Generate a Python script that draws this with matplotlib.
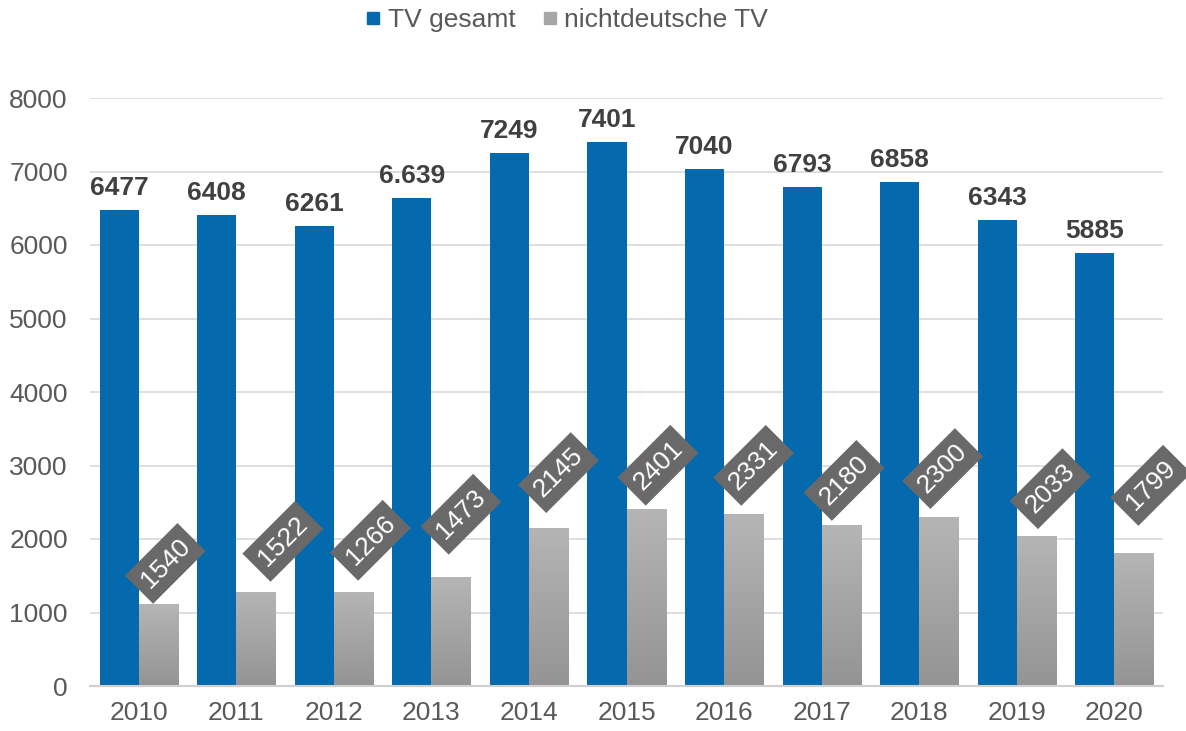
import numpy as np
import matplotlib
matplotlib.use('Agg')
import matplotlib.pyplot as plt
from matplotlib.lines import Line2D

plt.rcParams['font.family'] = ['Liberation Sans', 'DejaVu Sans']

# ---- Daten ----
years = ['2010', '2011', '2012', '2013', '2014', '2015', '2016', '2017', '2018', '2019', '2020']
tv_gesamt = [6477, 6408, 6261, 6639, 7249, 7401, 7040, 6793, 6858, 6343, 5885]
tv_gesamt_labels = ['6477', '6408', '6261', '6.639', '7249', '7401', '7040', '6793', '6858', '6343', '5885']
# Balkenhöhen wie im Bild (2010/2011 passen nicht zu den Beschriftungen)
tv_nichtdeutsch = [1110, 1275, 1275, 1480, 2155, 2405, 2335, 2185, 2305, 2045, 1805]
tv_nichtdeutsch_labels = ['1540', '1522', '1266', '1473', '2145', '2401', '2331', '2180', '2300', '2033', '1799']

# Verschiebung der gedrehten Beschriftungen (Pixel, rechts / oben)
label_shift = [(7, 41), (27, 51), (17, 52), (10, 63), (10, 55), (12, 44),
               (10, 49), (3, 45), (4, 48), (14, 47), (17, 68)]

BLUE = '#0569ae'
TXT = '#595959'
FS = 19

fig = plt.figure(figsize=(11.86, 7.31), dpi=100)
ax = fig.add_axes([90 / 1186, 45 / 731, 1073 / 1186, 588 / 731])

x = np.arange(len(years))
w = 0.4

ax.bar(x - w / 2, tv_gesamt, width=w, color=BLUE, zorder=3)

# graue Balken mit Verlauf
grad = np.linspace(0, 1, 256).reshape(-1, 1)
cmap = matplotlib.colors.LinearSegmentedColormap.from_list('g', ['#949494', '#b5b5b5'])
grey_bars = ax.bar(x + w / 2, tv_nichtdeutsch, width=w, color='none', zorder=3)
for rect in grey_bars:
    x0 = rect.get_x()
    h = rect.get_height()
    im = ax.imshow(grad, extent=[x0, x0 + rect.get_width(), 0, h], origin='lower',
                   aspect='auto', cmap=cmap, zorder=3)
    im.set_clip_path(rect)

# Beschriftungen blau
for xi, v, lab in zip(x, tv_gesamt, tv_gesamt_labels):
    ax.annotate(lab, xy=(xi - w / 2, v), xytext=(0, 15), textcoords='offset pixels',
                ha='center', va='baseline', fontsize=FS, fontweight='bold',
                color='#404040', zorder=5)

# Beschriftungen grau (gedreht, in dunklen Kästchen)
for xi, v, lab, (dx, dy) in zip(x, tv_nichtdeutsch, tv_nichtdeutsch_labels, label_shift):
    ax.annotate(lab, xy=(xi + w / 2, v), xytext=(dx, dy), textcoords='offset pixels',
                ha='center', va='center', rotation=45, rotation_mode='anchor',
                fontsize=FS, color='white', zorder=6,
                bbox=dict(boxstyle='square,pad=0.3', fc='#696969', ec='none'))

ax.set_xlim(-0.5, len(years) - 0.5)
ax.set_ylim(0, 8000)
ax.set_yticks(range(0, 8001, 1000))
ax.set_xticks(x)
ax.set_xticklabels(years)
ax.tick_params(axis='both', length=0, labelsize=FS, labelcolor=TXT)
ax.tick_params(axis='x', pad=11)
ax.tick_params(axis='y', pad=16)

ax.grid(axis='y', color='#d9d9d9', linewidth=1.2, zorder=0)
ax.set_axisbelow(True)
for s in ['top', 'right', 'left']:
    ax.spines[s].set_visible(False)
ax.spines['bottom'].set_color('#d0d0d0')
ax.spines['bottom'].set_linewidth(1.5)
ax.spines['bottom'].set_zorder(4)

handles = [Line2D([], [], marker='s', linestyle='none', markersize=9, color=BLUE),
           Line2D([], [], marker='s', linestyle='none', markersize=9, color='#a6a6a6')]
fig.legend(handles, ['TV gesamt', 'nichtdeutsche TV'], loc='center',
           bbox_to_anchor=(564 / 1186, 1 - 20 / 731), ncol=2, frameon=False,
           fontsize=FS, labelcolor=TXT, handletextpad=0.05, columnspacing=0.8,
           handlelength=1.0)

fig.savefig('out.png', dpi=100)
